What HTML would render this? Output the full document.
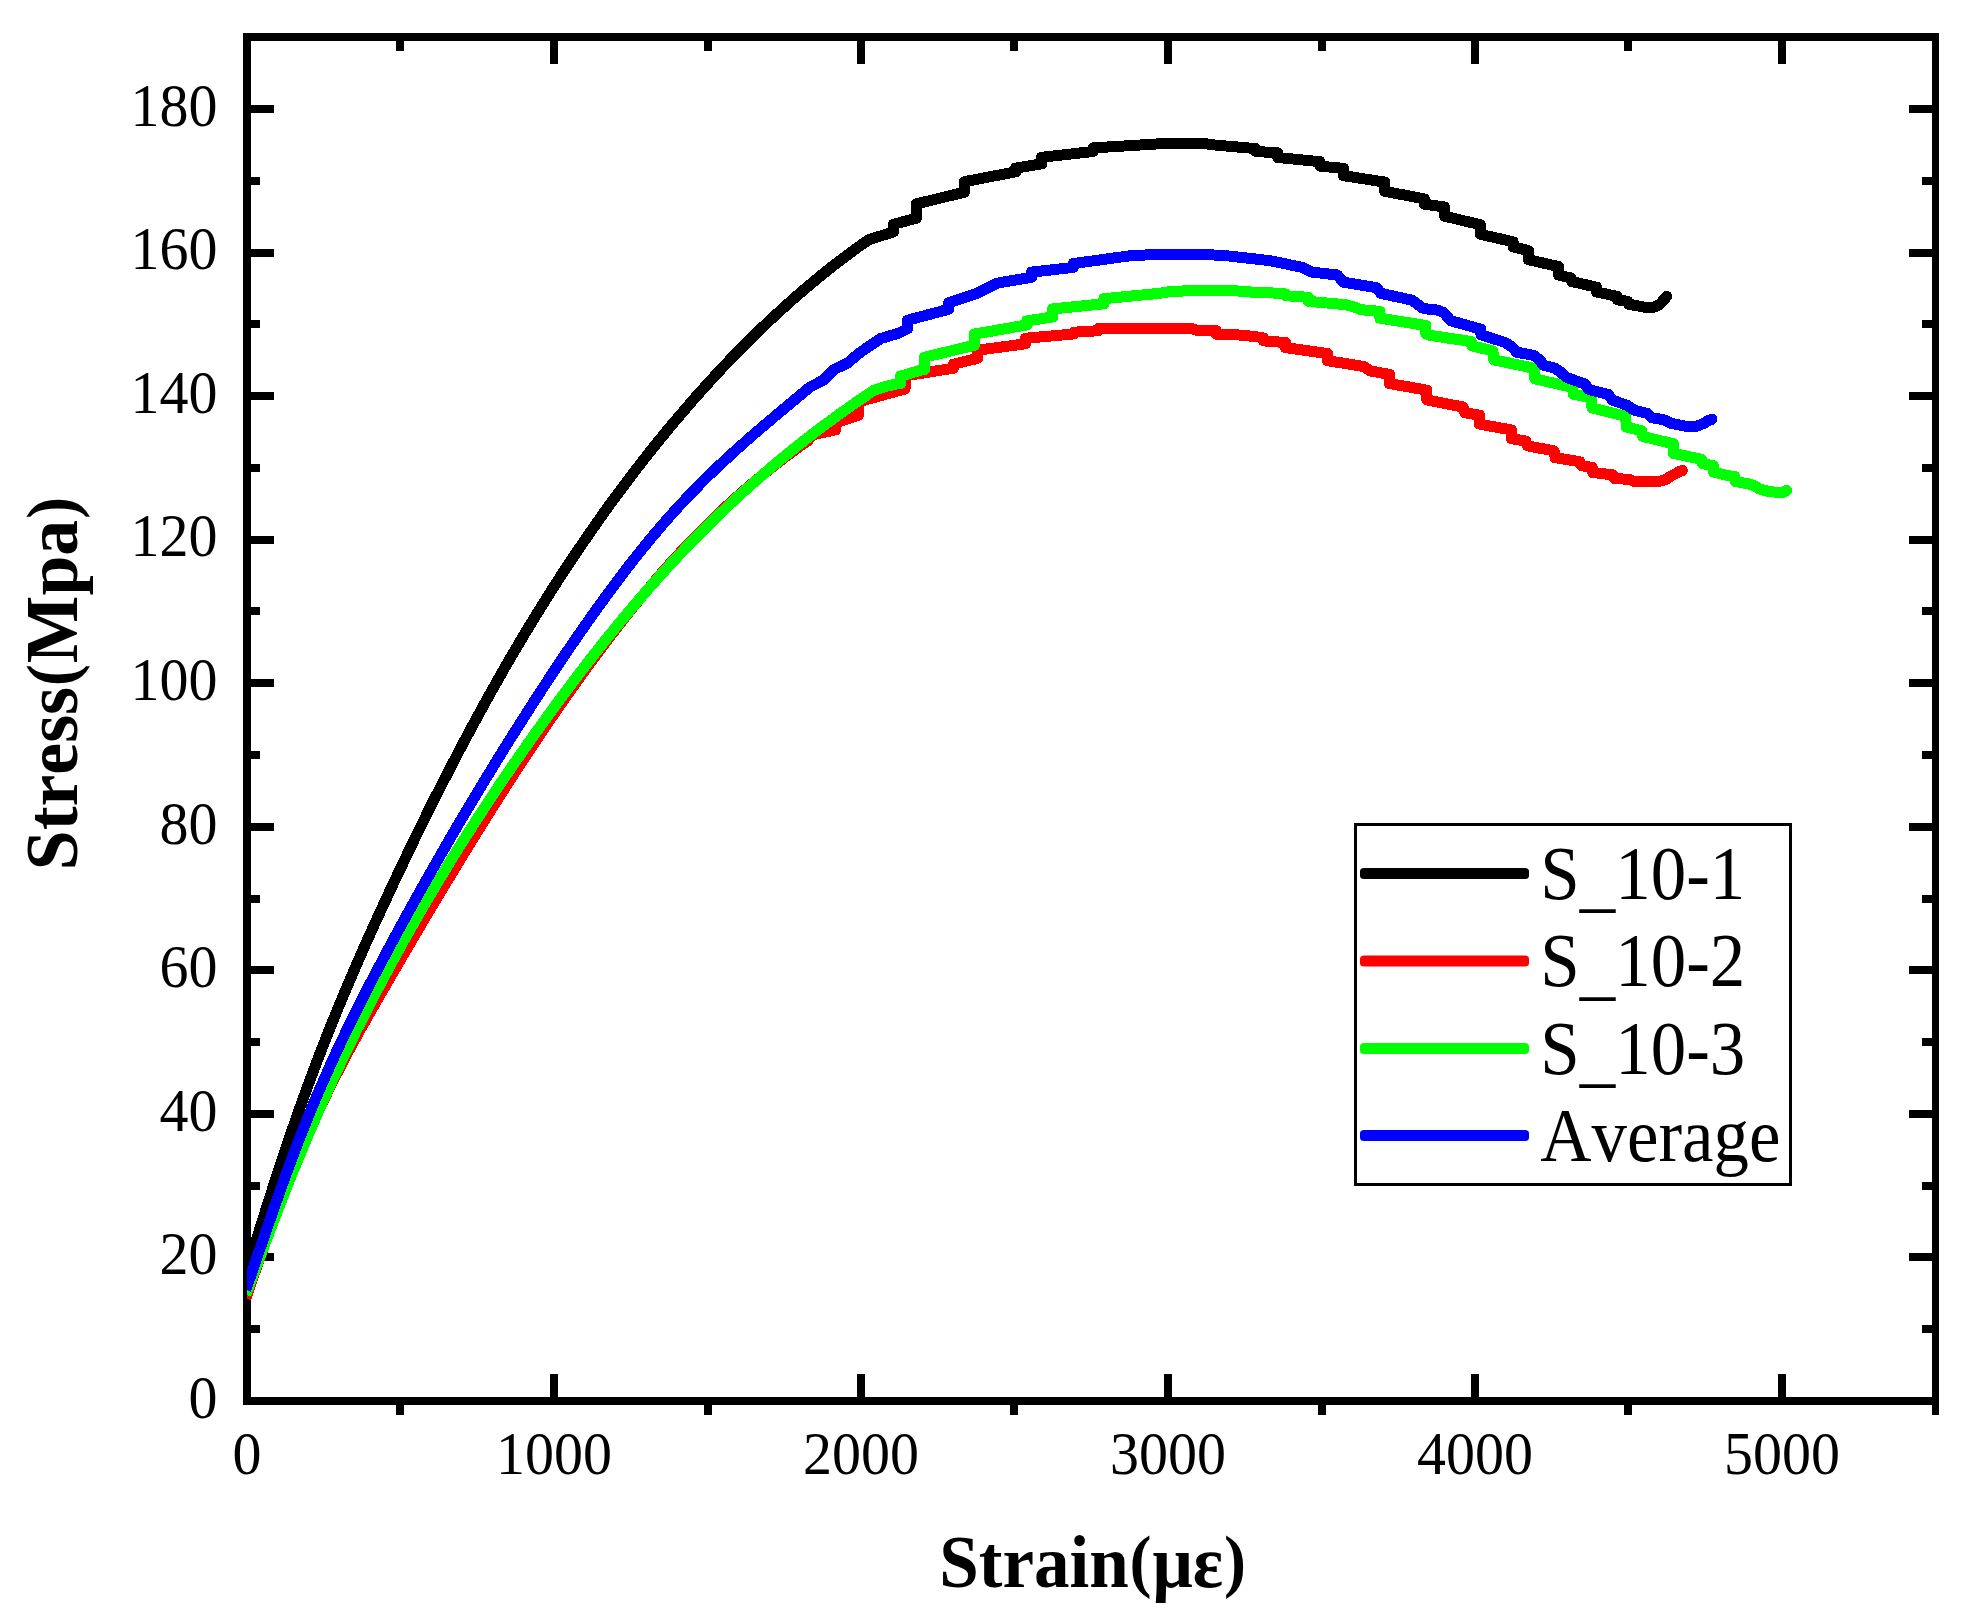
<!DOCTYPE html>
<html lang="en"><head><meta charset="utf-8"><title>Stress-Strain</title>
<style>html,body{margin:0;padding:0;background:#fff}svg{display:block}</style></head>
<body>
<svg width="1971" height="1622" viewBox="0 0 1971 1622" shape-rendering="crispEdges">
<rect x="0" y="0" width="1971" height="1622" fill="#fff"/>
<g fill="#000">
<rect x="243" y="33" width="1696" height="8"/>
<rect x="243" y="1397" width="1696" height="8"/>
<rect x="243" y="33" width="8" height="1372"/>
<rect x="1932" y="33" width="7" height="1372"/>
<rect x="251" y="1325" width="9" height="8"/>
<rect x="1922" y="1325" width="10" height="8"/>
<rect x="251" y="1253" width="23" height="8"/>
<rect x="1909" y="1253" width="23" height="8"/>
<rect x="251" y="1182" width="9" height="8"/>
<rect x="1922" y="1182" width="10" height="8"/>
<rect x="251" y="1110" width="23" height="8"/>
<rect x="1909" y="1110" width="23" height="8"/>
<rect x="251" y="1038" width="9" height="8"/>
<rect x="1922" y="1038" width="10" height="8"/>
<rect x="251" y="966" width="23" height="8"/>
<rect x="1909" y="966" width="23" height="8"/>
<rect x="251" y="895" width="9" height="8"/>
<rect x="1922" y="895" width="10" height="8"/>
<rect x="251" y="823" width="23" height="8"/>
<rect x="1909" y="823" width="23" height="8"/>
<rect x="251" y="751" width="9" height="8"/>
<rect x="1922" y="751" width="10" height="8"/>
<rect x="251" y="679" width="23" height="8"/>
<rect x="1909" y="679" width="23" height="8"/>
<rect x="251" y="607" width="9" height="8"/>
<rect x="1922" y="607" width="10" height="8"/>
<rect x="251" y="536" width="23" height="8"/>
<rect x="1909" y="536" width="23" height="8"/>
<rect x="251" y="464" width="9" height="8"/>
<rect x="1922" y="464" width="10" height="8"/>
<rect x="251" y="392" width="23" height="8"/>
<rect x="1909" y="392" width="23" height="8"/>
<rect x="251" y="320" width="9" height="8"/>
<rect x="1922" y="320" width="10" height="8"/>
<rect x="251" y="249" width="23" height="8"/>
<rect x="1909" y="249" width="23" height="8"/>
<rect x="251" y="177" width="9" height="8"/>
<rect x="1922" y="177" width="10" height="8"/>
<rect x="251" y="105" width="23" height="8"/>
<rect x="1909" y="105" width="23" height="8"/>
<rect x="396" y="41" width="8" height="10"/>
<rect x="396" y="1405" width="8" height="10"/>
<rect x="550" y="41" width="8" height="23"/>
<rect x="550" y="1374" width="8" height="23"/>
<rect x="704" y="41" width="8" height="10"/>
<rect x="704" y="1405" width="8" height="10"/>
<rect x="857" y="41" width="8" height="23"/>
<rect x="857" y="1374" width="8" height="23"/>
<rect x="1010" y="41" width="8" height="10"/>
<rect x="1010" y="1405" width="8" height="10"/>
<rect x="1164" y="41" width="8" height="23"/>
<rect x="1164" y="1374" width="8" height="23"/>
<rect x="1318" y="41" width="8" height="10"/>
<rect x="1318" y="1405" width="8" height="10"/>
<rect x="1471" y="41" width="8" height="23"/>
<rect x="1471" y="1374" width="8" height="23"/>
<rect x="1624" y="41" width="8" height="10"/>
<rect x="1624" y="1405" width="8" height="10"/>
<rect x="1778" y="41" width="8" height="23"/>
<rect x="1778" y="1374" width="8" height="23"/>
<rect x="1932" y="1405" width="7" height="10"/>
</g>
<g font-family="'Liberation Serif', serif" font-size="58" fill="#000" style="font-kerning:none">
<text transform="translate(217.50,1417.80) scale(1.0000,1.0530)" text-anchor="end">0</text>
<text transform="translate(217.50,1274.24) scale(1.0000,1.0530)" text-anchor="end">20</text>
<text transform="translate(217.50,1130.68) scale(1.0000,1.0530)" text-anchor="end">40</text>
<text transform="translate(217.50,987.12) scale(1.0000,1.0530)" text-anchor="end">60</text>
<text transform="translate(217.50,843.56) scale(1.0000,1.0530)" text-anchor="end">80</text>
<text transform="translate(217.50,700.00) scale(1.0000,1.0530)" text-anchor="end">100</text>
<text transform="translate(217.50,556.44) scale(1.0000,1.0530)" text-anchor="end">120</text>
<text transform="translate(217.50,412.88) scale(1.0000,1.0530)" text-anchor="end">140</text>
<text transform="translate(217.50,269.32) scale(1.0000,1.0530)" text-anchor="end">160</text>
<text transform="translate(217.50,125.76) scale(1.0000,1.0530)" text-anchor="end">180</text>
<text transform="translate(247.00,1473.50) scale(1.0000,1.0530)" text-anchor="middle">0</text>
<text transform="translate(554.00,1473.50) scale(1.0000,1.0530)" text-anchor="middle">1000</text>
<text transform="translate(861.00,1473.50) scale(1.0000,1.0530)" text-anchor="middle">2000</text>
<text transform="translate(1168.00,1473.50) scale(1.0000,1.0530)" text-anchor="middle">3000</text>
<text transform="translate(1475.00,1473.50) scale(1.0000,1.0530)" text-anchor="middle">4000</text>
<text transform="translate(1782.00,1473.50) scale(1.0000,1.0530)" text-anchor="middle">5000</text>
</g>
<g font-family="'Liberation Serif', serif" font-weight="bold" font-size="72" fill="#000" style="font-kerning:none">
<text transform="translate(1092.60,1586.80) scale(0.9870,1.0300)" text-anchor="middle">Strain<tspan font-size="67" dy="-2.3" dx="0.85">(</tspan><tspan dy="2.3" dx="0.85">με</tspan><tspan font-size="67" dy="-2.3" dx="0.85">)</tspan></text>
<text transform="translate(77.00,683.50) rotate(-90) scale(0.9950,1.0300)" text-anchor="middle">Stress<tspan font-size="67" dy="-2.3" dx="0.85">(</tspan><tspan dy="2.3" dx="0.85">Mpa</tspan><tspan font-size="67" dy="-2.3" dx="0.85">)</tspan></text>
</g>
<defs><clipPath id="plotclip"><rect x="247" y="37" width="1688" height="1364"/></clipPath></defs>
<g clip-path="url(#plotclip)" fill="none" stroke-width="11" stroke-linejoin="round" stroke-linecap="butt" shape-rendering="crispEdges">
<path d="M245.8 1273.6 L247.0 1269.8 L254.0 1247.4 L261.0 1225.1 L268.0 1203.1 L274.9 1181.4 L281.9 1160.0 L288.9 1139.2 L295.9 1119.0 L302.9 1099.3 L309.9 1080.2 L316.9 1061.6 L323.8 1043.6 L330.8 1026.0 L337.8 1008.8 L344.8 992.0 L351.8 975.6 L358.8 959.5 L365.7 943.7 L372.7 928.2 L379.7 912.9 L386.7 897.8 L393.7 882.8 L400.7 868.1 L407.7 853.4 L414.6 839.0 L421.6 824.7 L428.6 810.6 L435.6 796.6 L442.6 782.9 L449.6 769.3 L456.6 755.8 L463.5 742.6 L470.5 729.5 L477.5 716.6 L484.5 703.8 L491.5 691.2 L498.5 678.8 L505.4 666.6 L512.4 654.6 L519.4 642.7 L526.4 631.0 L533.4 619.5 L540.4 608.2 L547.4 597.0 L554.3 586.0 L561.3 575.2 L568.3 564.6 L575.3 554.1 L582.3 543.8 L589.3 533.6 L596.3 523.6 L603.2 513.7 L610.2 504.0 L617.2 494.5 L624.2 485.1 L631.2 475.9 L638.2 466.8 L645.2 457.8 L652.1 449.0 L659.1 440.3 L666.1 431.8 L673.1 423.4 L680.1 415.1 L687.1 407.0 L694.0 398.9 L701.0 391.1 L708.0 383.3 L715.0 375.7 L722.0 368.2 L729.0 360.8 L736.0 353.6 L742.9 346.5 L749.9 339.5 L756.9 332.7 L763.9 325.9 L770.9 319.3 L777.9 312.9 L784.9 306.5 L791.8 300.3 L798.8 294.2 L805.8 288.2 L812.8 282.3 L819.8 276.5 L826.8 270.9 L833.7 265.4 L840.7 260.0 L847.7 254.8 L854.7 249.6 L861.7 244.6 L868.7 239.7 L893.4 231.9 L893.4 224.3 L916.4 218.2 L916.4 216.7 L916.4 203.9 L964.4 192.2 L964.4 181.7 L1015.7 171.8 L1015.7 168.1 L1041.6 163.9 L1041.6 157.3 L1093.1 151.5 L1093.1 147.9 L1158.0 143.9 L1200.0 143.6 L1204.8 143.6 L1214.7 145.0 L1255.7 148.6 L1255.7 151.4 L1277.8 152.9 L1277.8 157.5 L1319.8 161.7 L1319.8 166.1 L1343.7 168.4 L1343.7 175.7 L1384.8 182.1 L1384.8 191.3 L1424.4 198.9 L1424.4 204.2 L1444.3 206.9 L1444.6 216.2 L1480.4 224.7 L1480.4 234.3 L1513.1 241.8 L1513.1 246.8 L1528.5 250.6 L1528.5 259.7 L1558.7 266.6 L1558.7 275.0 L1570.9 278.0 L1571.6 281.5 L1596.6 287.2 L1596.6 291.9 L1617.0 296.4 L1617.6 299.9 L1627.7 301.3 L1628.6 304.2 L1645.5 307.3 L1653.8 307.3 L1659.9 304.2 L1663.7 299.9 L1666.8 296.3" stroke="#000"/>
<circle cx="1666.8" cy="296.3" r="5.5" fill="#000" stroke="none"/>
<path d="M245.8 1298.3 L247.0 1294.8 L253.3 1276.6 L259.6 1258.6 L265.9 1240.9 L272.2 1223.5 L278.5 1206.5 L284.8 1190.0 L291.2 1173.9 L297.5 1158.5 L303.8 1143.6 L310.1 1129.3 L316.4 1115.4 L322.7 1102.1 L329.0 1089.1 L335.3 1076.5 L341.6 1064.3 L347.9 1052.3 L354.2 1040.7 L360.5 1029.2 L366.9 1018.0 L373.2 1006.9 L379.5 995.9 L385.8 985.0 L392.1 974.1 L398.4 963.2 L404.7 952.4 L411.0 941.7 L417.3 931.0 L423.6 920.3 L429.9 909.7 L436.2 899.1 L442.5 888.6 L448.9 878.2 L455.2 867.8 L461.5 857.4 L467.8 847.1 L474.1 836.9 L480.4 826.8 L486.7 816.7 L493.0 806.7 L499.3 796.8 L505.6 786.9 L511.9 777.1 L518.2 767.4 L524.6 757.8 L530.9 748.2 L537.2 738.8 L543.5 729.4 L549.8 720.1 L556.1 711.0 L562.4 701.9 L568.7 692.9 L575.0 684.0 L581.3 675.2 L587.6 666.5 L593.9 657.9 L600.2 649.4 L606.6 641.1 L612.9 632.8 L619.2 624.7 L625.5 616.7 L631.8 608.8 L638.1 601.0 L644.4 593.4 L650.7 585.9 L657.0 578.5 L663.3 571.2 L669.6 564.1 L675.9 557.2 L682.3 550.3 L688.6 543.6 L694.9 537.1 L701.2 530.7 L707.5 524.4 L713.8 518.2 L720.1 512.2 L726.4 506.3 L732.7 500.5 L739.0 494.9 L745.3 489.4 L751.6 484.0 L757.9 478.7 L764.3 473.5 L770.6 468.4 L776.9 463.5 L783.2 458.6 L789.5 453.9 L795.8 449.3 L802.1 444.7 L808.4 440.3 L811.6 435.0 L835.4 429.9 L835.4 422.8 L858.3 415.2 L858.3 401.8 L905.0 389.0 L905.0 375.9 L953.4 368.2 L953.4 364.2 L977.5 358.4 L977.5 350.2 L1025.4 343.8 L1025.4 338.3 L1074.2 333.9 L1074.2 332.2 L1098.5 330.7 L1098.5 328.4 L1158.7 328.0 L1158.7 328.7 L1180.0 328.7 L1191.9 328.6 L1195.7 330.1 L1214.7 330.4 L1216.2 330.7 L1216.2 334.2 L1241.4 335.1 L1260.4 337.3 L1263.4 337.9 L1263.4 340.9 L1284.0 342.4 L1285.5 342.6 L1285.5 347.6 L1326.6 353.4 L1327.7 353.5 L1327.7 360.7 L1363.9 366.5 L1370.8 371.1 L1387.6 374.0 L1389.4 374.3 L1389.4 383.5 L1425.3 389.9 L1426.8 390.2 L1426.8 399.8 L1430.0 400.5 L1460.5 406.5 L1463.2 407.0 L1464.7 412.8 L1478.4 414.9 L1479.5 415.1 L1479.5 424.1 L1510.7 429.8 L1511.5 430.0 L1511.5 438.7 L1525.9 441.1 L1527.2 445.8 L1554.1 450.9 L1555.2 457.7 L1580.0 461.8 L1581.5 465.8 L1592.2 467.3 L1592.8 472.5 L1612.7 474.9 L1614.6 478.6 L1628.7 479.3 L1634.8 481.6 L1656.9 481.9 L1665.3 479.8 L1670.6 476.3 L1675.2 474.0 L1679.7 471.3 L1682.3 470.5" stroke="#f00"/>
<circle cx="1682.3" cy="470.5" r="5.5" fill="#f00" stroke="none"/>
<path d="M245.8 1294.7 L247.0 1291.5 L253.9 1273.1 L260.7 1254.8 L267.6 1236.6 L274.4 1218.7 L281.3 1200.9 L288.1 1183.5 L295.0 1166.5 L301.9 1149.9 L308.7 1133.7 L315.6 1117.8 L322.4 1102.4 L329.3 1087.2 L336.1 1072.4 L343.0 1057.9 L349.9 1043.7 L356.7 1029.8 L363.6 1016.2 L370.4 1002.8 L377.3 989.6 L384.1 976.7 L391.0 963.9 L397.9 951.4 L404.7 939.0 L411.6 926.9 L418.4 914.9 L425.3 903.0 L432.2 891.4 L439.0 879.9 L445.9 868.6 L452.7 857.4 L459.6 846.4 L466.4 835.5 L473.3 824.8 L480.2 814.2 L487.0 803.7 L493.9 793.4 L500.7 783.1 L507.6 773.0 L514.4 763.0 L521.3 753.1 L528.2 743.3 L535.0 733.6 L541.9 724.1 L548.7 714.6 L555.6 705.2 L562.4 695.9 L569.3 686.7 L576.2 677.6 L583.0 668.7 L589.9 659.8 L596.7 651.1 L603.6 642.4 L610.4 633.9 L617.3 625.5 L624.2 617.2 L631.0 609.0 L637.9 601.0 L644.7 593.0 L651.6 585.2 L658.4 577.5 L665.3 569.9 L672.2 562.4 L679.0 555.1 L685.9 547.8 L692.7 540.7 L699.6 533.7 L706.5 526.9 L713.3 520.1 L720.2 513.5 L727.0 507.0 L733.9 500.5 L740.7 494.2 L747.6 488.0 L754.5 481.9 L761.3 475.9 L768.2 470.0 L775.0 464.2 L781.9 458.5 L788.7 452.9 L795.6 447.4 L802.5 441.9 L809.3 436.6 L816.2 431.3 L823.0 426.2 L829.9 421.1 L836.7 416.1 L843.6 411.2 L850.5 406.3 L857.3 401.5 L873.0 390.8 L884.0 386.9 L896.2 384.0 L900.6 383.7 L900.6 376.1 L920.4 370.3 L924.7 369.4 L924.7 357.2 L974.4 345.2 L974.4 334.1 L1026.9 324.9 L1026.9 320.8 L1052.8 317.0 L1052.8 308.9 L1103.8 303.8 L1103.8 298.7 L1158.7 293.4 L1169.3 291.7 L1180.0 291.6 L1183.8 290.7 L1234.5 290.7 L1247.5 291.9 L1266.5 292.6 L1283.2 293.7 L1285.5 294.0 L1285.5 295.7 L1305.3 297.1 L1308.4 297.4 L1308.4 301.3 L1345.7 304.7 L1356.3 307.7 L1360.9 309.7 L1377.7 311.2 L1379.9 311.5 L1379.9 318.1 L1424.9 325.4 L1425.9 325.5 L1425.9 333.6 L1430.0 335.3 L1471.1 341.5 L1472.0 345.9 L1492.9 350.8 L1493.8 359.8 L1534.2 368.3 L1534.9 378.8 L1572.4 387.4 L1573.3 394.1 L1591.4 398.0 L1592.0 407.8 L1625.7 416.4 L1626.3 426.8 L1640.1 430.5 L1641.7 430.9 L1642.9 436.5 L1672.1 443.5 L1673.3 443.9 L1673.3 453.4 L1699.5 458.8 L1701.4 459.2 L1702.6 463.6 L1712.5 465.6 L1713.5 465.9 L1713.5 471.9 L1726.9 475.4 L1734.9 476.6 L1735.6 481.5 L1749.0 484.0 L1755.3 486.1 L1759.3 488.8 L1763.9 490.3 L1770.3 491.8 L1782.7 492.5 L1785.2 491.1 L1786.5 490.5" stroke="#0f0"/>
<circle cx="1786.5" cy="490.5" r="5.5" fill="#0f0" stroke="none"/>
<path d="M245.8 1289.9 L247.0 1286.4 L253.3 1268.1 L259.6 1249.7 L266.0 1231.3 L272.3 1213.1 L278.6 1195.1 L284.9 1177.4 L291.3 1160.2 L297.6 1143.5 L303.9 1127.4 L310.2 1111.7 L316.5 1096.6 L322.9 1082.0 L329.2 1067.7 L335.5 1053.9 L341.8 1040.4 L348.2 1027.2 L354.5 1014.4 L360.8 1001.7 L367.1 989.4 L373.4 977.2 L379.8 965.2 L386.1 953.3 L392.4 941.5 L398.7 929.8 L405.1 918.2 L411.4 906.7 L417.7 895.4 L424.0 884.1 L430.4 872.9 L436.7 861.8 L443.0 850.8 L449.3 839.9 L455.6 829.0 L462.0 818.3 L468.3 807.6 L474.6 797.1 L480.9 786.6 L487.3 776.2 L493.6 765.8 L499.9 755.6 L506.2 745.4 L512.5 735.3 L518.9 725.3 L525.2 715.4 L531.5 705.5 L537.8 695.7 L544.2 686.0 L550.5 676.4 L556.8 666.8 L563.1 657.4 L569.4 648.1 L575.8 638.8 L582.1 629.7 L588.4 620.7 L594.7 611.8 L601.1 603.0 L607.4 594.3 L613.7 585.8 L620.0 577.4 L626.3 569.1 L632.7 561.0 L639.0 553.0 L645.3 545.2 L651.6 537.5 L658.0 530.0 L664.3 522.6 L670.6 515.4 L676.9 508.4 L683.3 501.6 L689.6 494.9 L695.9 488.4 L702.2 482.0 L708.5 475.7 L714.9 469.6 L721.2 463.6 L727.5 457.8 L733.8 452.0 L740.2 446.3 L746.5 440.7 L752.8 435.2 L759.1 429.7 L765.4 424.3 L771.8 419.0 L778.1 413.6 L784.4 408.4 L790.7 403.1 L797.1 397.8 L803.4 392.6 L809.7 387.3 L824.0 379.7 L833.6 369.7 L847.6 363.0 L859.5 352.9 L880.5 338.6 L899.1 333.0 L907.6 328.8 L907.6 320.2 L948.7 309.3 L948.7 302.7 L976.1 293.7 L997.5 283.1 L1031.7 277.3 L1031.7 272.1 L1073.3 267.4 L1073.3 263.6 L1128.4 256.0 L1151.3 254.6 L1200.0 254.3 L1210.1 254.8 L1226.1 255.7 L1270.3 260.7 L1302.3 267.4 L1311.4 272.0 L1337.3 275.0 L1343.4 282.2 L1376.9 287.7 L1380.7 293.3 L1411.9 300.1 L1422.6 308.1 L1430.0 309.5 L1437.6 310.1 L1443.7 312.6 L1449.0 318.7 L1450.6 320.7 L1480.7 329.2 L1481.0 334.7 L1505.4 342.6 L1512.2 347.1 L1516.8 352.2 L1533.9 355.5 L1540.4 360.5 L1543.0 365.1 L1555.2 368.2 L1561.3 372.7 L1566.3 377.3 L1585.3 384.2 L1588.7 389.5 L1608.5 394.5 L1612.3 400.1 L1627.5 405.5 L1634.4 410.3 L1647.3 413.4 L1651.9 417.7 L1664.0 419.9 L1670.9 423.3 L1685.8 426.2 L1696.5 426.2 L1703.3 423.7 L1708.7 420.2 L1712.0 419.3" stroke="#00f"/>
<circle cx="1712.0" cy="419.3" r="5.5" fill="#00f" stroke="none"/>
</g>
<rect x="1355.5" y="824.5" width="435" height="360" fill="#fff" stroke="#000" stroke-width="3"/>
<rect x="1360" y="868.0" width="169" height="11" rx="4" ry="3.5" fill="#000" shape-rendering="auto"/>
<rect x="1360" y="955.5" width="169" height="11" rx="4" ry="3.5" fill="#f00" shape-rendering="auto"/>
<rect x="1360" y="1043.0" width="169" height="11" rx="4" ry="3.5" fill="#0f0" shape-rendering="auto"/>
<rect x="1360" y="1130.0" width="169" height="11" rx="4" ry="3.5" fill="#00f" shape-rendering="auto"/>
<g font-family="'Liberation Serif', serif" font-size="72" fill="#000" style="font-kerning:none">
<text transform="translate(1540.30,898.50) scale(0.9850,1.0450)" text-anchor="start">S<tspan dy="4.5">_</tspan><tspan dy="-4.5">10-1</tspan></text>
<text transform="translate(1540.30,986.00) scale(0.9850,1.0450)" text-anchor="start">S<tspan dy="4.5">_</tspan><tspan dy="-4.5">10-2</tspan></text>
<text transform="translate(1540.30,1073.50) scale(0.9850,1.0450)" text-anchor="start">S<tspan dy="4.5">_</tspan><tspan dy="-4.5">10-3</tspan></text>
<text transform="translate(1540.30,1160.50) scale(0.9850,1.0450)" text-anchor="start">Average</text>
</g>
</svg>
</body></html>
